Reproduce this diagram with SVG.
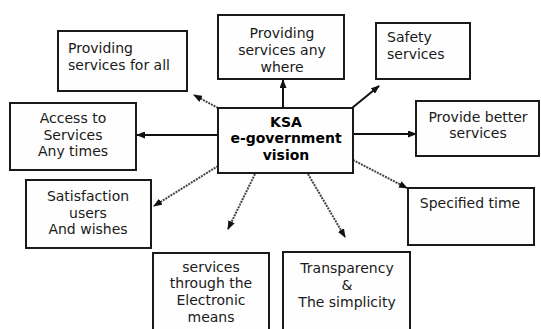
<svg xmlns="http://www.w3.org/2000/svg" width="541" height="329" viewBox="0 0 541 329">
<style>
.box{fill:#fefefe;stroke:#1a1a1a;stroke-width:2}
.t{font-family:"DejaVu Sans",Verdana,sans-serif;font-size:14px;fill:#1a1a1a}
.c{text-anchor:middle}
.b{font-weight:bold;fill:#000}
.ln{stroke:#444;stroke-width:2;stroke-dasharray:2 1;fill:none;marker-end:url(#ah)}
.ls{stroke:#111;stroke-width:2;fill:none;marker-end:url(#ah)}
</style>
<defs>
<marker id="ah" markerUnits="userSpaceOnUse" markerWidth="9" markerHeight="7" refX="8" refY="3.5" orient="auto">
<path d="M0,0 L9,3.5 L0,7 Z" fill="#111"/>
</marker>
</defs>
<rect width="541" height="329" fill="#fff"/>
<g id="connectors">
<line class="ln" x1="218" y1="108" x2="194" y2="95"/>
<line class="ls" x1="218" y1="135" x2="137" y2="135"/>
<line class="ls" x1="283" y1="108" x2="283" y2="80"/>
<line class="ls" x1="352" y1="108" x2="379" y2="86"/>
<line class="ls" x1="353" y1="134" x2="416" y2="134"/>
<line class="ln" x1="353" y1="160" x2="407" y2="188"/>
<line class="ln" x1="308" y1="174" x2="345" y2="237"/>
<line class="ln" x1="255" y1="174" x2="228" y2="229"/>
<line class="ln" x1="218" y1="166" x2="154" y2="206"/>
</g>
<g id="center">
<rect class="box" x="218" y="108" width="135" height="65"/>
<text class="t c b" x="286" y="127">KSA</text>
<text class="t c b" x="286" y="143">e-government</text>
<text class="t c b" x="286" y="160">vision</text>
</g>
<g id="n-all">
<rect class="box" x="58" y="31" width="129" height="60"/>
<text class="t" x="68" y="53">Providing</text>
<text class="t" x="68" y="70">services for all</text>
</g>
<g id="n-anywhere">
<rect class="box" x="218" y="15" width="126" height="64"/>
<text class="t c" x="282" y="38">Providing</text>
<text class="t c" x="282" y="55">services any</text>
<text class="t c" x="282" y="72">where</text>
</g>
<g id="n-safety">
<rect class="box" x="376" y="23" width="94" height="56"/>
<text class="t" x="387" y="42">Safety</text>
<text class="t" x="387" y="59">services</text>
</g>
<g id="n-better">
<rect class="box" x="416" y="101" width="123" height="55"/>
<text class="t c" x="478" y="122">Provide better</text>
<text class="t c" x="478" y="138">services</text>
</g>
<g id="n-access">
<rect class="box" x="10" y="103" width="126" height="67"/>
<text class="t c" x="73" y="123">Access to</text>
<text class="t c" x="73" y="140">Services</text>
<text class="t c" x="73" y="156">Any times</text>
</g>
<g id="n-specified">
<rect class="box" x="408" y="188" width="126" height="57"/>
<text class="t c" x="470" y="208">Specified time</text>
</g>
<g id="n-satisfaction">
<rect class="box" x="26" y="180" width="125" height="68"/>
<text class="t c" x="88" y="201">Satisfaction</text>
<text class="t c" x="88" y="218">users</text>
<text class="t c" x="88" y="234">And wishes</text>
</g>
<g id="n-electronic">
<rect class="box" x="153" y="253" width="116" height="80"/>
<text class="t c" x="211" y="272">services</text>
<text class="t c" x="211" y="288">through the</text>
<text class="t c" x="211" y="305">Electronic</text>
<text class="t c" x="211" y="322">means</text>
</g>
<g id="n-transparency">
<rect class="box" x="283" y="252" width="127" height="81"/>
<text class="t c" x="347" y="273">Transparency</text>
<text class="t c" x="347" y="290">&amp;</text>
<text class="t c" x="347" y="307">The simplicity</text>
</g>
</svg>
